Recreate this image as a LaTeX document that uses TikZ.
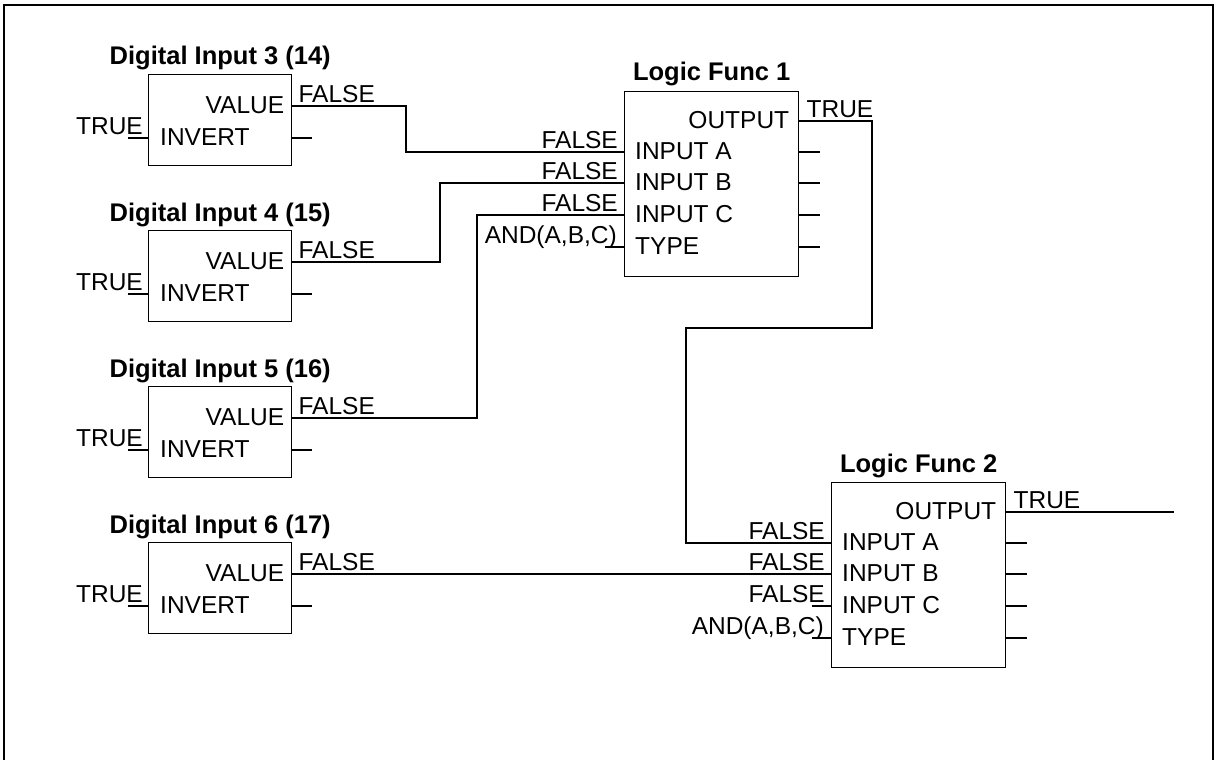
\documentclass[tikz,border=0pt]{standalone}
\usepackage{fontspec}
\setmainfont{Liberation Sans}
\usetikzlibrary{calc}
\tikzset{
  blk/.style={draw, line width=1.4pt, rectangle, inner sep=0pt, anchor=north west},
  wire/.style={line width=1.3pt},
  ttl/.style={font=\fontsize{25.5}{29}\selectfont\bfseries, anchor=base, inner sep=0pt},
  lbl/.style={font=\fontsize{24.5}{28}\selectfont, inner sep=0pt},
}
\newcommand\diblock[3]{%
  \node[blk, minimum width=143pt, minimum height=91pt] (#1) at (148,#3) {};
  \node[ttl] (#1t) at ($(#1.north)+(0,-9)$) {#2};
  \coordinate (#1v) at ($(#1.north east)+(0,32)$);
  \coordinate (#1i) at ($(#1.north west)+(0,64)$);
  \coordinate (#1s) at ($(#1.north east)+(0,64)$);
  \coordinate (#1ie) at ($(#1i)+(-20,0)$);
  \coordinate (#1se) at ($(#1s)+(20,0)$);
  \node[lbl, anchor=base east] (#1vl) at ($(#1v)+(-8,7)$) {VALUE};
  \node[lbl, anchor=base west] (#1il) at ($(#1i)+(12,7)$) {INVERT};
  \node[lbl, anchor=base west] (#1f) at ($(#1v)+(6,-4)$) {FALSE};
  \node[lbl, anchor=base east] (#1tr) at ($(#1i)+(-5,-4)$) {TRUE};
  \draw[wire] (#1i) -- (#1ie);
  \draw[wire] (#1s) -- (#1se);
}
\newcommand\lfblock[4]{%
  \node[blk, minimum width=174pt, minimum height=185pt] (#1) at (#3,#4) {};
  \node[ttl] (#1t) at ($(#1.north)+(0,-10)$) {#2};
  \coordinate (#1o) at ($(#1.north east)+(0,30)$);
  \coordinate (#1a) at ($(#1.north west)+(0,61)$);
  \coordinate (#1b) at ($(#1.north west)+(0,92)$);
  \coordinate (#1c) at ($(#1.north west)+(0,124)$);
  \coordinate (#1y) at ($(#1.north west)+(0,156)$);
  \coordinate (#1ra) at ($(#1.north east)+(0,61)$);
  \coordinate (#1rb) at ($(#1.north east)+(0,92)$);
  \coordinate (#1rc) at ($(#1.north east)+(0,124)$);
  \coordinate (#1ry) at ($(#1.north east)+(0,156)$);
  \coordinate (#1rae) at ($(#1ra)+(21,0)$);
  \coordinate (#1rbe) at ($(#1rb)+(21,0)$);
  \coordinate (#1rce) at ($(#1rc)+(21,0)$);
  \coordinate (#1rye) at ($(#1ry)+(21,0)$);
  \coordinate (#1ye) at ($(#1y)+(-19,0)$);
  \node[lbl, anchor=base east] (#1ol) at ($(#1o)+(-10,7)$) {OUTPUT};
  \node[lbl, anchor=base west] (#1al) at ($(#1a)+(11,7)$) {INPUT A};
  \node[lbl, anchor=base west] (#1bl) at ($(#1b)+(11,7)$) {INPUT B};
  \node[lbl, anchor=base west] (#1cl) at ($(#1c)+(11,7)$) {INPUT C};
  \node[lbl, anchor=base west] (#1yl) at ($(#1y)+(11,7)$) {TYPE};
  \node[lbl, anchor=base east] (#1af) at ($(#1a)+(-6,-4)$) {FALSE};
  \node[lbl, anchor=base east] (#1bf) at ($(#1b)+(-6,-4)$) {FALSE};
  \node[lbl, anchor=base east] (#1cf) at ($(#1c)+(-6,-4)$) {FALSE};
  \node[lbl, anchor=base east] (#1yf) at ($(#1y)+(-7,-4)$) {AND(A,B,C)};
  \node[lbl, anchor=base west] (#1ot) at ($(#1o)+(7,-4)$) {TRUE};
  \draw[wire] (#1ra) -- (#1rae);
  \draw[wire] (#1rb) -- (#1rbe);
  \draw[wire] (#1rc) -- (#1rce);
  \draw[wire] (#1ry) -- (#1rye);
  \draw[wire] (#1y) -- (#1ye);
}
\begin{document}
\begin{tikzpicture}[x=1pt, y=-1pt]
\useasboundingbox (0,0) rectangle (1215,760);
\fill[white] (0,0) rectangle (1215,760);
\coordinate (fr1) at (4,5);
\coordinate (fr2) at (1213,800);
\draw[line width=1.3pt] (fr1) rectangle (fr2);

\diblock{dia}{Digital Input 3 (14)}{74}
\diblock{dib}{Digital Input 4 (15)}{230}
\diblock{dic}{Digital Input 5 (16)}{386}
\diblock{did}{Digital Input 6 (17)}{542}

\lfblock{lfa}{Logic Func 1}{624}{91}
\lfblock{lfb}{Logic Func 2}{831}{482}

\coordinate (lfbce) at ($(lfbc)+(-19,0)$);
\draw[wire] (lfbc) -- (lfbce);

\coordinate (j1) at (406,129);
\coordinate (j2) at (440,220);
\coordinate (j3) at (477,300);
\coordinate (j4a) at (872,328);
\coordinate (j4b) at (686,328);
\coordinate (oend) at (1174,512);

\draw[wire] (diav) -| (j1) |- (lfaa);
\draw[wire] (dibv) -| (j2) |- (lfab);
\draw[wire] (dicv) -| (j3) |- (lfac);
\draw[wire] (lfao) -| (j4a) -- (j4b) |- (lfba);
\draw[wire] (didv) -- (lfbb);
\draw[wire] (lfbo) -- (oend);
\end{tikzpicture}
\end{document}
